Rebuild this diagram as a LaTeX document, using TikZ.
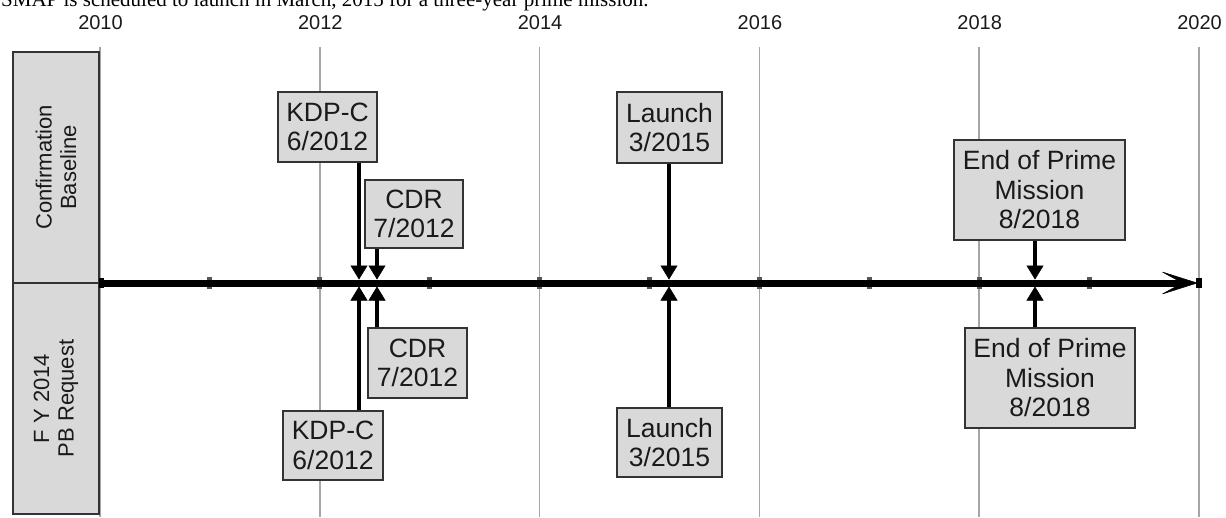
\documentclass[tikz,border=0pt]{standalone}
\usepackage{fontspec}
\setmainfont{Liberation Sans}
\newfontfamily\introfont{Liberation Serif}
\usetikzlibrary{arrows.meta}
\definecolor{boxfill}{HTML}{D9D9D9}
\definecolor{boxline}{HTML}{333333}
\definecolor{gridc}{HTML}{A6A6A6}
\definecolor{tickc}{HTML}{555555}
\definecolor{txt}{HTML}{1A1A1A}
\begin{document}
\begin{tikzpicture}[x=1pt,y=-1pt,
  milebox/.style={draw=boxline, line width=1.5pt, fill=boxfill, align=center,
    inner sep=0pt, text=txt, font=\fontsize{26.5}{29.5}\selectfont},
  sidebox/.style={draw=boxline, line width=1.5pt, fill=boxfill, rotate=90,
    minimum width=231pt, minimum height=86pt, inner sep=0pt, align=center,
    text=txt, font=\fontsize{22}{24.5}\selectfont},
  gridline/.style={draw=gridc, line width=1.5pt},
  stem/.style={line width=4.5pt, -{Triangle[length=14pt,width=17pt,line width=0.5pt]}},
  yearlbl/.style={font=\fontsize{20}{22}\selectfont, text=txt, inner sep=0pt, anchor=base},
  axisline/.style={line width=7pt, -{Stealth[length=38pt,width=24pt,inset=22pt,line width=0.5pt]}}
]
\useasboundingbox (0,0) rectangle (1226,517);

% intro sentence, cut off by the top edge
\begin{scope}
\clip (0,0) rectangle (1226,517);
\node[anchor=base west, inner sep=0pt, text=black, font=\introfont\fontsize{21}{24}\selectfont] (intro) at (1,6)
  {SMAP is scheduled to launch in March, 2015 for a three-year prime mission.};
\end{scope}

% grid lines and year labels
\foreach \k/\yr in {0/2010,1/2012,2/2014,3/2016,4/2018,5/2020}{
  \draw[gridline] (100+219.8*\k,47) -- (100+219.8*\k,517);
  \node[yearlbl] (yr\yr) at (100.5+219.8*\k,29.3) {\yr};
}

% side boxes
\node[sidebox] (conf) at (56,167.5) {Confirmation\\Baseline};
\node[sidebox] (pbreq) at (56,398.5) {F Y 2014\\PB Request};

% ticks
\foreach \i in {1,...,9}{
  \fill[tickc] (100+109.9*\i-2.5,277) rectangle ++(5,12);
}
\fill[black] (1196,278) rectangle (1202,288);
\fill[black] (99,278) rectangle (104,288);

% axis
\coordinate (axL) at (100,283);
\coordinate (axR) at (1198,283);
\draw[axisline] (axL) -- (axR);

% axis points
\coordinate (kdpA) at (359,283);
\coordinate (cdrA) at (377,283);
\coordinate (lauA) at (669,283);
\coordinate (endA) at (1035,283);

% milestone boxes (confirmation baseline)
\node[milebox, minimum width=99pt, minimum height=70pt] (kdpT) at (327.5,127) {KDP-C\\6/2012};
\node[milebox, minimum width=98pt, minimum height=68pt] (cdrT) at (414,214) {CDR\\7/2012};
\node[milebox, minimum width=105pt, minimum height=71pt] (lauT) at (669.5,127.5) {Launch\\3/2015};
\node[milebox, minimum width=171pt, minimum height=100pt] (endT) at (1039.5,190) {End of Prime\\Mission\\8/2018};

% milestone boxes (PB request)
\node[milebox, minimum width=99pt, minimum height=70pt] (cdrB) at (417.5,363) {CDR\\7/2012};
\node[milebox, minimum width=100pt, minimum height=69pt] (kdpB) at (333,445.5) {KDP-C\\6/2012};
\node[milebox, minimum width=105pt, minimum height=69pt] (lauB) at (669.5,442.5) {Launch\\3/2015};
\node[milebox, minimum width=170pt, minimum height=100pt] (endB) at (1050,378) {End of Prime\\Mission\\8/2018};

% stems
\draw[stem] (kdpT.south -| kdpA) -- ([yshift=3.5pt]kdpA);
\draw[stem] (cdrT.south -| cdrA) -- ([yshift=3.5pt]cdrA);
\draw[stem] (lauT.south -| lauA) -- ([yshift=3.5pt]lauA);
\draw[stem] (endT.south -| endA) -- ([yshift=3.5pt]endA);
\draw[stem] (kdpB.north -| kdpA) -- ([yshift=-3.5pt]kdpA);
\draw[stem] (cdrB.north -| cdrA) -- ([yshift=-3.5pt]cdrA);
\draw[stem] (lauB.north -| lauA) -- ([yshift=-3.5pt]lauA);
\draw[stem] (endB.north -| endA) -- ([yshift=-3.5pt]endA);
\end{tikzpicture}
\end{document}
